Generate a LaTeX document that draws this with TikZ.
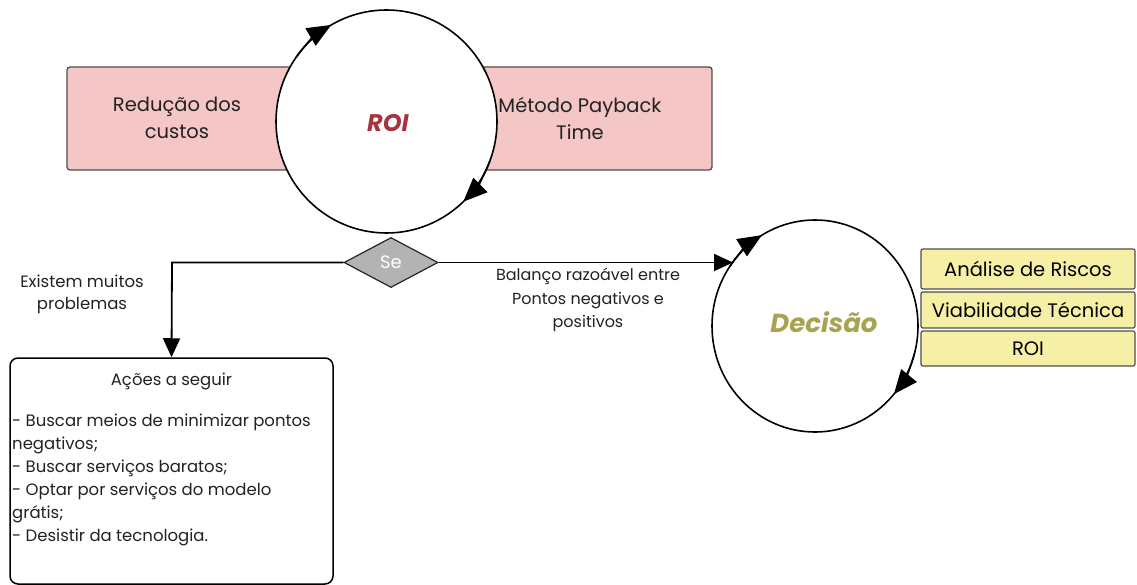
\documentclass[tikz,border=0pt]{standalone}
\usepackage{fontspec}
\setmainfont{Poppins}
\usetikzlibrary{shapes.geometric,arrows.meta}
\definecolor{pinkfill}{HTML}{F4C6C6}
\definecolor{roired}{HTML}{A8323E}
\definecolor{decolive}{HTML}{A9A24E}
\definecolor{yelfill}{HTML}{F6F0A6}
\definecolor{diagray}{HTML}{B3B3B3}
\definecolor{txt}{HTML}{222222}
\begin{document}
\begin{tikzpicture}[x=1pt,y=-1pt,
  pinkbox/.style={draw=txt!80,line width=1.3pt,fill=pinkfill,rounded corners=3pt,inner sep=0pt},
  loop/.style={draw=black,line width=1.6pt,ellipse,inner sep=0pt},
  yelbox/.style={draw=txt!80,line width=1.2pt,fill=yelfill,rounded corners=2pt,inner sep=0pt,minimum width=214pt,font=\fontsize{19.5}{22}\selectfont},
  lbl/.style={text=txt,align=center,inner sep=0pt},
  conn/.style={draw=black,line width=1.8pt,-{Triangle[length=19pt,width=17pt]}},
  circarr/.style={draw=black,line width=1.6pt,-{Triangle[length=24pt,width=20pt]}},
  decide/.style={diamond,draw=black!85,line width=1.2pt,fill=diagray,aspect=1.9,minimum width=94pt,minimum height=50pt,inner sep=0pt,text=white,font=\fontsize{18}{20}\selectfont},
  actbox/.style={draw=black,line width=1.5pt,rounded corners=8pt,fill=white,minimum width=323pt,minimum height=226pt,inner sep=0pt}
]
\useasboundingbox (0,0) rectangle (1137,585);
\fill[white] (0,0) rectangle (1137,585);

% pink band
\node[pinkbox,minimum width=645pt,minimum height=103pt] (band) at (389.5,118.5) {};
\node[lbl,font=\fontsize{19.5}{27}\selectfont] (red) at (177,118) {Redução dos\\custos};
\node[lbl,font=\fontsize{19.5}{27}\selectfont] (pay) at (580,118) {Método Payback\\Time};

% ROI loop
\node[loop,fill=white,minimum width=221pt,minimum height=223pt] (roi) at (386.5,121.5) {};
\node[lbl,text=roired,font=\fontsize{24}{28}\selectfont\bfseries\itshape] (roit) at (388,123) {ROI};
\draw[circarr] (386.5,121.5) ++(215:110.5 and 111.5) arc[start angle=215,end angle=240,x radius=110.5,y radius=111.5];
\draw[circarr] (386.5,121.5) ++(20:110.5 and 111.5) arc[start angle=20,end angle=46,x radius=110.5,y radius=111.5];

% decision diamond
\node[decide] (se) at (391,262.5) {Se};

% left branch
\node[actbox] (act) at (171.5,471) {};
\draw[conn] (se.west) -- (172,262.5) -- (act.north);
\node[lbl,font=\fontsize{16.5}{22}\selectfont] (exi) at (82,294) {Existem muitos\\problemas};
\node[lbl,font=\fontsize{16.5}{20}\selectfont] (acth) at (171.5,381) {Ações a seguir};
\node[lbl,align=left,anchor=north west,font=\fontsize{16.5}{23}\selectfont] (actl) at (12,414)
 {- Buscar meios de minimizar pontos\\negativos;\\- Buscar serviços baratos;\\- Optar por serviços do modelo\\grátis;\\- Desistir da tecnologia.};

% yellow list
\node[yelbox,minimum height=40pt] (ar) at (1028,269) {Análise de Riscos};
\node[yelbox,minimum height=36pt] (vt) at (1028,310) {Viabilidade Técnica};
\node[yelbox,minimum height=35pt] (ro) at (1028,348.5) {ROI};

% Decisao loop
\node[loop,minimum width=206pt,minimum height=212pt] (dec) at (815,326) {};
\node[lbl,text=decolive,font=\fontsize{26}{30}\selectfont\bfseries\itshape] (dect) at (824,322) {Decisão};
\draw[circarr] (815,326) ++(214:103 and 106) arc[start angle=214,end angle=239,x radius=103,y radius=106];
\draw[circarr] (815,326) ++(15:103 and 106) arc[start angle=15,end angle=40,x radius=103,y radius=106];
\coordinate (decin) at (733,262.5);
\draw[conn] (se.east) -- (decin);
\node[lbl,font=\fontsize{16}{23.5}\selectfont] (bal) at (588,300) {Balanço razoável entre\\Pontos negativos e\\positivos};
\end{tikzpicture}
\end{document}
